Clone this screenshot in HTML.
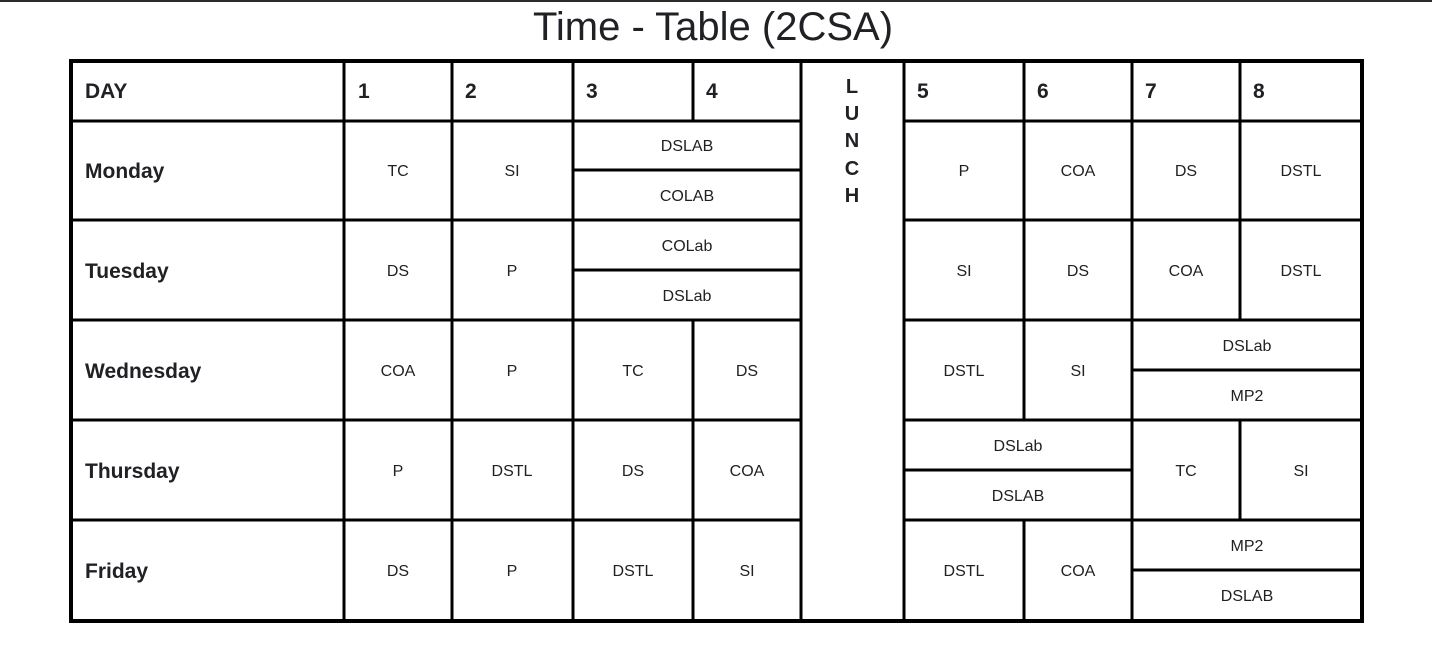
<!DOCTYPE html>
<html><head><meta charset="utf-8"><style>
html,body{margin:0;padding:0;background:#fff;}
body{width:1432px;height:662px;position:relative;overflow:hidden;font-family:"Liberation Sans",Arial,sans-serif;color:#202124;}
svg text{font-family:"Liberation Sans",Arial,sans-serif;}
</style></head><body>
<svg width="1432" height="662" xmlns="http://www.w3.org/2000/svg" style="position:absolute;left:0;top:0">
<rect x="0" y="0" width="1432" height="2" fill="#2b2b2b"/>
<text x="713" y="40" font-size="40" text-anchor="middle" fill="#202124">Time - Table (2CSA)</text>
<g stroke="#000" stroke-width="3" fill="none">
<line x1="344" y1="61" x2="344" y2="621"/>
<line x1="452" y1="61" x2="452" y2="621"/>
<line x1="573" y1="61" x2="573" y2="621"/>
<line x1="801" y1="61" x2="801" y2="621"/>
<line x1="904" y1="61" x2="904" y2="621"/>
<line x1="1132" y1="61" x2="1132" y2="621"/>
<line x1="693" y1="61" x2="693" y2="121"/>
<line x1="693" y1="320" x2="693" y2="621"/>
<line x1="1024" y1="61" x2="1024" y2="420"/>
<line x1="1024" y1="520" x2="1024" y2="621"/>
<line x1="1240" y1="61" x2="1240" y2="320"/>
<line x1="1240" y1="420" x2="1240" y2="520"/>
<line x1="71" y1="121" x2="801" y2="121"/><line x1="904" y1="121" x2="1362" y2="121"/>
<line x1="71" y1="220" x2="801" y2="220"/><line x1="904" y1="220" x2="1362" y2="220"/>
<line x1="71" y1="320" x2="801" y2="320"/><line x1="904" y1="320" x2="1362" y2="320"/>
<line x1="71" y1="420" x2="801" y2="420"/><line x1="904" y1="420" x2="1362" y2="420"/>
<line x1="71" y1="520" x2="801" y2="520"/><line x1="904" y1="520" x2="1362" y2="520"/>
<line x1="573" y1="170" x2="801" y2="170"/>
<line x1="573" y1="270" x2="801" y2="270"/>
<line x1="1132" y1="370" x2="1362" y2="370"/>
<line x1="904" y1="470" x2="1132" y2="470"/>
<line x1="1132" y1="570" x2="1362" y2="570"/>
</g>
<rect x="71" y="61" width="1291" height="560" stroke="#000" stroke-width="4" fill="none"/>
<g font-size="21" font-weight="bold" fill="#202124">
<text x="85" y="98">DAY</text>
<text x="358" y="98">1</text><text x="465" y="98">2</text><text x="586" y="98">3</text><text x="706" y="98">4</text>
<text x="917" y="98">5</text><text x="1037" y="98">6</text><text x="1145" y="98">7</text><text x="1253" y="98">8</text>
<text x="85" y="178">Monday</text>
<text x="85" y="278">Tuesday</text>
<text x="85" y="378">Wednesday</text>
<text x="85" y="478">Thursday</text>
<text x="85" y="578">Friday</text>
</g>
<g font-size="20" font-weight="bold" fill="#202124" text-anchor="middle">
<text x="852" y="93">L</text><text x="852" y="120">U</text><text x="852" y="147">N</text><text x="852" y="175">C</text><text x="852" y="202">H</text>
</g>
<g font-size="16" fill="#202124" text-anchor="middle">
<text x="398" y="176">TC</text><text x="512" y="176">SI</text>
<text x="687" y="151">DSLAB</text><text x="687" y="201">COLAB</text>
<text x="964" y="176">P</text><text x="1078" y="176">COA</text><text x="1186" y="176">DS</text><text x="1301" y="176">DSTL</text>
<text x="398" y="276">DS</text><text x="512" y="276">P</text>
<text x="687" y="251">COLab</text><text x="687" y="301">DSLab</text>
<text x="964" y="276">SI</text><text x="1078" y="276">DS</text><text x="1186" y="276">COA</text><text x="1301" y="276">DSTL</text>
<text x="398" y="376">COA</text><text x="512" y="376">P</text><text x="633" y="376">TC</text><text x="747" y="376">DS</text>
<text x="964" y="376">DSTL</text><text x="1078" y="376">SI</text>
<text x="1247" y="351">DSLab</text><text x="1247" y="401">MP2</text>
<text x="398" y="476">P</text><text x="512" y="476">DSTL</text><text x="633" y="476">DS</text><text x="747" y="476">COA</text>
<text x="1018" y="451">DSLab</text><text x="1018" y="501">DSLAB</text>
<text x="1186" y="476">TC</text><text x="1301" y="476">SI</text>
<text x="398" y="576">DS</text><text x="512" y="576">P</text><text x="633" y="576">DSTL</text><text x="747" y="576">SI</text>
<text x="964" y="576">DSTL</text><text x="1078" y="576">COA</text>
<text x="1247" y="551">MP2</text><text x="1247" y="601">DSLAB</text>
</g>
</svg>
</body></html>
